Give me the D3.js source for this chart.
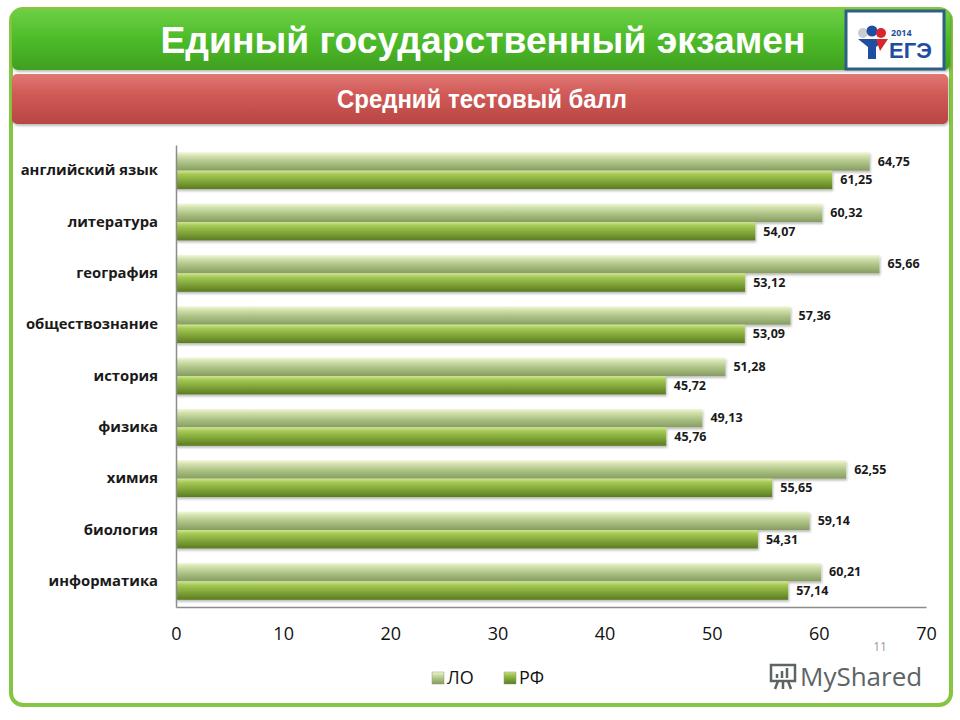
<!DOCTYPE html>
<html>
<head>
<meta charset="utf-8">
<script src="https://cdn.jsdelivr.net/npm/d3@7"></script>
<style>
  body { margin: 0; background: #fff; }
  svg { display: block; font-family: "Open Sans", "Liberation Sans", sans-serif; }
</style>
</head>
<body>
<svg width="960" height="720"></svg>
<script>
const subjects = ["английский язык", "литература", "география", "обществознание", "история",
  "физика", "химия", "биология", "информатика"];
const seriesNames = ["ЛО", "РФ"];
const valuesLO = [64.75, 60.32, 65.66, 57.36, 51.28, 49.13, 62.55, 59.14, 60.21];
const valuesRF = [61.25, 54.07, 53.12, 53.09, 45.72, 45.76, 55.65, 54.31, 57.14];
const xTicks = [0, 10, 20, 30, 40, 50, 60, 70];

const rows = subjects.map((s, i) => ({ subject: s, values: [valuesLO[i], valuesRF[i]] }));

const ru = d3.formatLocale({ decimal: ",", thousands: " ", grouping: [3], currency: ["", ""] });
const fmt = ru.format(".2f");

const svg = d3.select("svg");
const defs = svg.append("defs");

// gradients for the header, red strip and bars
function vGrad(id, stops) {
  const g = defs.append("linearGradient").attr("id", id)
    .attr("x1", 0).attr("y1", 0).attr("x2", 0).attr("y2", 1);
  stops.forEach(s => g.append("stop").attr("offset", s[0]).attr("stop-color", s[1]));
}
vGrad("gHead", [[0, "#6ccf45"], [0.45, "#4fbd2b"], [1, "#3fa020"]]);
vGrad("gRed", [[0, "#e07874"], [0.4, "#d05a57"], [1, "#b84644"]]);
vGrad("gLO", [[0, "#f3f8da"], [0.2, "#d4e2b0"], [0.55, "#adc285"], [1, "#879c61"]]);
vGrad("gRF", [[0, "#d0e592"], [0.2, "#a6c955"], [0.55, "#83a83b"], [1, "#5b7b22"]]);
const fills = ["url(#gLO)", "url(#gRF)"];

const shadow = defs.append("filter").attr("id", "shadow")
  .attr("x", "-5%").attr("y", "-20%").attr("width", "110%").attr("height", "160%");
shadow.append("feDropShadow").attr("dx", 1).attr("dy", 2).attr("stdDeviation", 1.2)
  .attr("flood-color", "#000").attr("flood-opacity", 0.25);

// slide frame
svg.append("rect")
  .attr("x", 11).attr("y", 9).attr("width", 940).attr("height", 696)
  .attr("rx", 12).attr("fill", "#fff")
  .attr("stroke", "#86c540").attr("stroke-width", 4);

// header bar
svg.append("rect")
  .attr("x", 12).attr("y", 10).attr("width", 938).attr("height", 60)
  .attr("rx", 6).attr("fill", "url(#gHead)").attr("filter", "url(#shadow)");
svg.append("text")
  .attr("x", 483).attr("y", 53)
  .attr("text-anchor", "middle")
  .attr("fill", "#fff").attr("font-weight", "bold")
  .attr("font-family", "Liberation Sans, Arial, sans-serif")
  .attr("font-size", 37)
  .attr("textLength", 645).attr("lengthAdjust", "spacingAndGlyphs")
  .text("Единый государственный экзамен");

// logo box
const logo = svg.append("g").attr("transform", "translate(846,11)");
logo.append("rect").attr("width", 98).attr("height", 58)
  .attr("fill", "#fff").attr("stroke", "#2d5f86").attr("stroke-width", 3);
logo.append("circle").attr("cx", 17).attr("cy", 22).attr("r", 5).attr("fill", "#c9cdd3");
logo.append("circle").attr("cx", 26).attr("cy", 20).attr("r", 5.5).attr("fill", "#1f4ea0");
logo.append("circle").attr("cx", 35).attr("cy", 22).attr("r", 5).attr("fill", "#d8262f");
logo.append("path").attr("d", "M12,28 L40,28 L30,36 L30,48 L22,48 L22,36 Z").attr("fill", "#1f4ea0");
logo.append("path").attr("d", "M30,28 L42,28 L34,40 Z").attr("fill", "#d8262f");
logo.append("text").attr("x", 45).attr("y", 25).attr("font-size", 9)
  .attr("font-weight", "bold").attr("fill", "#1f4ea0").text("2014");
logo.append("text").attr("x", 43).attr("y", 47).attr("font-size", 22)
  .attr("font-weight", "bold").attr("font-family", "Liberation Sans, Arial, sans-serif")
  .attr("fill", "#1f4ea0").text("ЕГЭ");

// red strip
svg.append("rect")
  .attr("x", 12).attr("y", 74).attr("width", 936).attr("height", 50)
  .attr("rx", 5).attr("fill", "url(#gRed)").attr("filter", "url(#shadow)");
svg.append("text")
  .attr("x", 482).attr("y", 108)
  .attr("text-anchor", "middle")
  .attr("fill", "#fff").attr("font-weight", "bold")
  .attr("font-family", "Liberation Sans, Arial, sans-serif")
  .attr("font-size", 25)
  .attr("textLength", 290).attr("lengthAdjust", "spacingAndGlyphs")
  .text("Средний тестовый балл");

// chart
const plot = { left: 176, right: 926, top: 145, bottom: 607 };

const x = d3.scaleLinear().domain([0, 70]).range([plot.left, plot.right]);
const y = d3.scaleBand().domain(subjects).range([plot.top, plot.bottom])
  .paddingInner(0.28).paddingOuter(0.14);
const ySub = d3.scaleBand().domain(seriesNames).range([0, y.bandwidth()]);

const groups = svg.append("g").selectAll("g")
  .data(rows)
  .join("g")
  .attr("transform", d => `translate(0,${y(d.subject)})`);

groups.selectAll("rect")
  .data(d => d.values.map((v, i) => ({ v, i })))
  .join("rect")
  .attr("x", x(0))
  .attr("y", d => ySub(seriesNames[d.i]))
  .attr("width", d => x(d.v) - x(0))
  .attr("height", ySub.bandwidth())
  .attr("fill", d => fills[d.i])
  .attr("filter", "url(#shadow)");

groups.selectAll("text")
  .data(d => d.values.map((v, i) => ({ v, i })))
  .join("text")
  .attr("x", d => x(d.v) + 8)
  .attr("y", d => ySub(seriesNames[d.i]) + ySub.bandwidth() / 2)
  .attr("dy", "0.35em")
  .attr("font-size", 12.5).attr("font-weight", "bold").attr("fill", "#1a1a1a")
  .text(d => fmt(d.v));

// axes
const yAxis = svg.append("g")
  .attr("transform", `translate(${plot.left},0)`)
  .call(d3.axisLeft(y).tickSize(0).tickPadding(18));
yAxis.select(".domain").attr("stroke", "#8c8c8c").attr("stroke-width", 1.5);
yAxis.selectAll("text")
  .attr("font-size", 14.8).attr("font-weight", "bold").attr("fill", "#1a1a1a")
  .attr("font-family", "Open Sans, sans-serif");

const xAxis = svg.append("g")
  .attr("transform", `translate(0,${plot.bottom})`)
  .call(d3.axisBottom(x).tickValues(xTicks).tickSize(0).tickPadding(20));
xAxis.select(".domain").attr("stroke", "#8c8c8c").attr("stroke-width", 1.5);
xAxis.selectAll("text")
  .attr("font-size", 18).attr("fill", "#111")
  .attr("font-family", "Open Sans, sans-serif");

// legend
const legend = svg.append("g").attr("transform", "translate(432,678)");
const legendX = d3.scalePoint().domain(seriesNames).range([0, 72]);
const li = legend.selectAll("g").data(seriesNames).join("g")
  .attr("transform", d => `translate(${legendX(d)},0)`);
li.append("rect").attr("x", 0).attr("y", -6).attr("width", 12).attr("height", 12)
  .attr("fill", (d, i) => fills[i]).attr("stroke", "#8a9a70").attr("stroke-width", 0.5);
li.append("text").attr("x", 15).attr("dy", "0.35em")
  .attr("font-size", 18).attr("fill", "#111").text(d => d);

// page number and watermark
svg.append("text").attr("x", 880).attr("y", 651).attr("text-anchor", "middle")
  .attr("font-size", 12).attr("fill", "#9a9a9a").text("11");
const wm = svg.append("g").attr("transform", "translate(768,661)");
wm.append("rect").attr("x", 3).attr("y", 4).attr("width", 24).attr("height", 16)
  .attr("fill", "none").attr("stroke", "#5d6464").attr("stroke-width", 2.5);
wm.append("path").attr("d", "M9,17 V13 M14,17 V10 M19,17 V7 M10,20 L7,28 M20,20 L23,28 M15,20 V28")
  .attr("stroke", "#5d6464").attr("stroke-width", 2.5).attr("fill", "none");
wm.append("text").attr("x", 32).attr("y", 25).attr("font-size", 26)
  .attr("font-family", "Open Sans, sans-serif").attr("fill", "#5d6464").text("MyShared");
</script>
</body>
</html>
